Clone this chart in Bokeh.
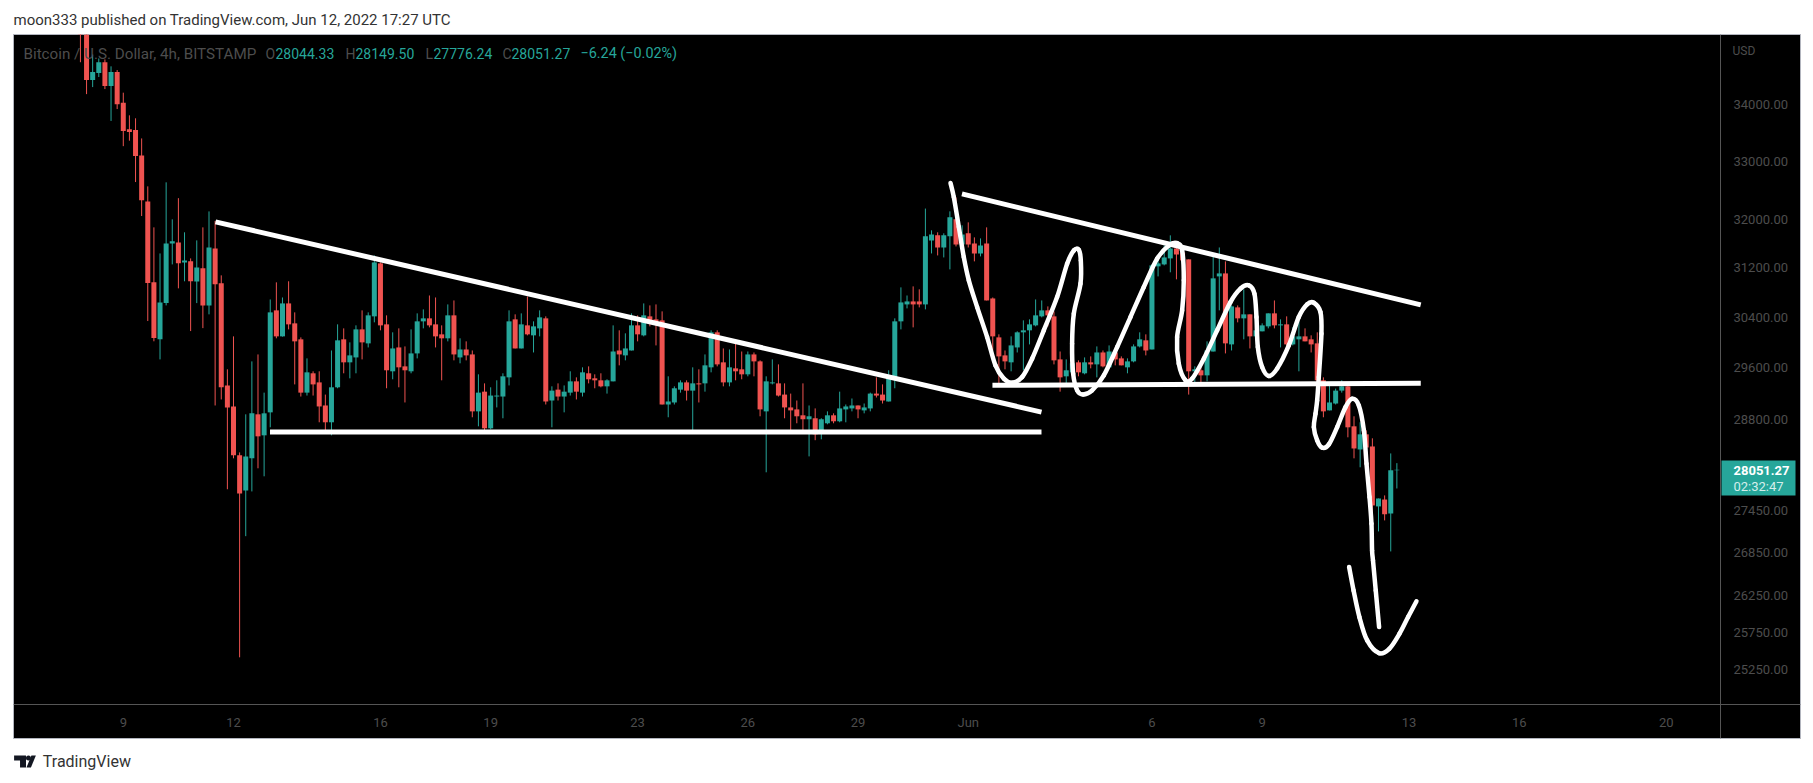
import math
from bokeh.plotting import figure
from bokeh.embed import file_html
from bokeh.resources import INLINE
from bokeh.layouts import column
from bokeh.core.properties import value
from bokeh.models import (ColumnDataSource, Range1d, FixedTicker, PrintfTickFormatter,
                          BoxAnnotation, Label)

# bar number: 0 is 9 May 2022 00:00, 4h bars
first_bar = -7
open_ = [36200,35400,34445,34573,34768,34336,34591,34036,33564,33550,33104,32311,
 30963,30047,30626,31605,31620,31290,31307,30975,31192,30589,31520,30947,
 29326,29003,28265,27748,28221,28883,28565,28913,30509,30094,30621,30301,
 30047,29215,29514,29373,29018,28762,29297,30047,29685,29762,30205,29983,
 30413,31274,30285,29545,29919,29622,29545,29825,30333,30381,30285,30126,
 30063,30429,29762,29887,29809,28928,29230,28671,29155,29155,29451,30365,
 29903,30269,30110,30221,30381,29094,29261,29155,29215,29389,29215,29514,
 29436,29405,29312,29389,29871,29794,29871,30269,30110,30413,30365,30349,
 29033,29064,29261,29373,29246,29358,29358,29607,30158,29685,29373,29591,
 29576,29498,29809,29700,28928,29358,29358,29185,28988,28958,28868,28808,
 28823,28595,28747,28868,28777,28958,28973,29018,28943,28973,29200,29185,
 29079,29451,30333,30605,30653,30653,30605,31655,31739,31537,31722,32008,
 31588,31773,31604,31438,31604,30701,30078,29794,29685,29919,30158,30190,
 30269,30413,30509,30413,29731,29467,29529,29685,29514,29685,29653,29840,
 29607,29840,29747,29607,29700,29935,30031,29887,31225,31257,31356,31520,
 31454,31340,29545,29561,29482,29855,31060,31109,29967,30557,30381,30445,
 30094,30174,30253,30461,30269,30285,29967,30047,30094,30047,29983,29405,
 28943,29048,29246,29312,28701,28353,28580,28398,27515,27615,27414,28044.33]
high = [36500,35800,34913,34840,34822,34695,34627,34217,33811,33758,33402,32569,
 31873,31438,32638,32008,32367,31790,31356,31655,31873,32142,31981,31077,
 29576,30094,28309,28883,29700,29809,29215,30685,30963,30717,30980,30477,
 30078,29747,29545,29545,29185,29871,30285,30221,29999,30269,30509,30477,
 31405,31290,30429,30158,30221,29935,30205,30461,30525,30749,30717,30269,
 30605,30669,30063,30015,29871,29498,29358,29297,29405,29514,30509,30445,
 30461,30733,30333,30509,30413,29312,29358,29326,29545,29451,29607,29622,
 29498,29514,29421,30269,30190,30142,30461,30429,30621,30589,30605,30493,
 29467,29312,29405,29405,29607,29576,29809,30190,30190,29903,29887,30015,
 29855,29855,29840,29716,29467,29731,29653,29358,29200,29094,29358,29018,
 28973,28823,28928,28898,29230,29033,29125,29018,29048,29215,29451,29342,
 29561,30381,30881,30749,30897,30849,32190,31823,31790,31773,32143,32380,
 31907,31957,31705,31688,31873,30717,30126,29871,30094,30174,30349,30365,
 30685,30669,30573,30493,29855,29731,29871,29716,29762,29778,29935,29871,
 29951,29871,29778,29747,29967,30158,30126,31257,31372,31571,31739,31540,
 31571,31340,29622,29716,30015,31389,31537,31307,30589,30589,30849,30445,
 30477,30301,30461,30669,30365,30413,30237,30333,30221,30110,30158,29451,
 29373,29277,29405,29342,28853,28762,28640,28520,27630,27675,28294,28149.5]
low = [34770,34191,34318,34500,34282,33711,33923,33266,33362,32643,32064,30338,
 30016,29731,30589,31257,30865,30980,30178,30626,30225,30445,29018,29110,
 27765,28221,25412,27087,27733,28073,27955,28686,30063,30090,30205,29342,
 29155,29170,29170,28762,28625,28565,29282,29514,29436,29514,29731,29919,
 30317,30190,29282,29421,29297,29064,29514,29747,30221,30237,29919,29405,
 30015,29716,29670,29716,28838,28701,28625,28656,28988,28823,29326,29903,
 29903,30110,29840,30094,29033,28686,29094,28913,29170,29110,29155,29358,
 29282,29297,29200,29389,29638,29716,29871,30015,30094,30253,29951,29033,
 28838,29033,29215,29094,28640,29064,29230,29529,29622,29312,29312,29405,
 29421,29467,29467,28853,28014,29342,29155,28823,28610,28747,28625,28250,
 28492,28505,28732,28747,28762,28762,28928,28823,28898,28928,29140,29048,
 29079,29282,30205,30541,30237,30557,30525,31438,31405,31372,31175,31554,
 31554,31537,31307,31389,30669,29871,29312,29576,29545,29840,29561,29967,
 30253,30397,30253,29653,29230,29358,29482,29467,29498,29591,29451,29607,
 29607,29638,29638,29514,29685,29919,29794,29887,31060,31241,31127,31012,
 31241,29185,29373,29326,29389,29855,30509,29825,29871,30317,30047,29903,
 30094,30174,30221,30221,29919,29951,29951,29545,30015,29840,29185,28838,
 28943,29033,29215,28535,28221,28088,28221,27240,27155,27313,26870,27776.24]
close = [35500,34445,34591,34768,34336,34591,34011,33532,33515,33092,32333,30951,
 30067,30637,31605,31640,31274,31320,30980,31208,30589,31537,30930,29297,
 28988,28265,27704,28250,28898,28550,28898,30477,30094,30621,30285,30015,
 29215,29529,29342,29003,28762,29297,30031,29685,29794,30205,29999,30429,
 31290,30269,29561,29903,29607,29561,29825,30333,30381,30269,30094,30063,
 30429,29809,29887,29794,28928,29215,28671,29170,29170,29467,30333,29903,
 30285,30126,30253,30397,29079,29246,29155,29230,29389,29230,29529,29421,
 29405,29312,29405,29855,29809,29903,30269,30126,30429,30349,30317,29033,
 29079,29282,29373,29246,29358,29342,29638,30158,29653,29373,29607,29545,
 29498,29809,29700,28958,29389,29373,29170,28988,28943,28853,28808,28853,
 28580,28808,28868,28777,28973,29003,29018,28958,28988,29200,29170,29094,
 29451,30333,30637,30653,30605,30605,31722,31755,31537,31739,32042,31588,
 31755,31588,31438,31571,30669,30094,29778,29700,29951,30158,30190,30285,
 30429,30509,30429,29716,29451,29561,29670,29529,29685,29653,29840,29622,
 29855,29731,29638,29700,29935,30047,29871,31241,31274,31372,31520,31422,
 31323,29545,29576,29482,29871,31028,31109,29983,30573,30381,30445,30094,
 30190,30269,30461,30269,30285,29967,30094,30094,30015,29967,29405,28928,
 29064,29246,29312,28686,28368,28580,28383,27529,27630,27400,28044,28051.27]

price_ticks = [25250,25750,26250,26850,27450,28800,29600,30400,31200,32000,33000,34000]
date_bars = [0,18,42,60,84,102,120,138,168,186,210,228,252]
date_labels = ["9","12","16","19","23","26","29","Jun","6","9","13","16","20"]

# white lines drawn by hand on the chart (bar number, price)
wedge1_bar, wedge1_price = [15.06,149.96], [31966,28917]
base1_bar, base1_price = [23.96,149.96], [28615,28615]
wedge2_bar, wedge2_price = [136.97,211.9], [32440,30597]
base2_bar, base2_price = [141.95,211.9], [29327,29358]
scrawl_bar = [135.1,135.64,136.46,137.27,138.09,139.45,141.08,142.44,143.81,145.17,146.8,148.43,150.34,
 152.51,154.15,155.24,156.05,156.38,156.33,155.24,154.96,155.13,155.78,156.76,158.23,160.14,162.31,
 164.49,166.67,168.85,170.75,172.11,172.93,173.2,172.93,172.11,172.38,173.47,174.56,176.47,178.65,
 180.82,182.46,183.82,184.74,185.07,185.29,185.99,187.08,188.44,190.35,191.98,193.34,194.43,195.52,
 195.68,195.25,194.98,194.71,194.44,194.98,195.8,196.89,198.25,199.61,200.7,201.79,202.61,203.04,
 203.53,203.85,203.95,204.1,204.55,205.1]
scrawl_price = [32626,32385,31879,31377,30996,30562,30083,29638,29431,29369,29456,29742,30190,
 30723,31269,31487,31499,31323,30942,30457,29978,29509,29250,29186,29250,29482,29924,
 30402,30887,31351,31571,31609,31487,30996,30509,30083,29664,29405,29431,29742,30190,
 30642,30860,30914,30778,30402,29924,29611,29472,29587,29951,30402,30605,30632,30482,
 30136,29456,29094,28893,28690,28489,28379,28429,28690,28993,29120,29018,28640,28142,
 27650,27266,26883,26743,26323,25820]
hook_bar = [200.2,200.93,201.88,203.15,205.1,206.76,208.43,209.83,211.2]
hook_price = [26650,26323,25957,25639,25467,25526,25730,25957,26174]

UP, DOWN = "#26a69a", "#ef5350"
GREY = "#4d4d4d"
RULE = "#555555"
FONT = "Roboto"

bars = list(range(first_bar, first_bar + len(close)))
colors = [UP if c >= o else DOWN for o, c in zip(open_, close)]
source = ColumnDataSource(dict(bar=bars, open=open_, high=high, low=low, close=close, color=colors))

# the black frame takes in both scale strips; the two axes sit on fixed locations inside it
p = figure(width=1805, height=739, output_backend="svg", toolbar_location=None,
           y_axis_type="log", y_axis_location="right",
           x_range=Range1d(-17.93, 273.92), y_range=Range1d(24348, 35282),
           min_border_left=13, min_border_top=34, min_border_right=5, min_border_bottom=1)
p.background_fill_color = "black"
p.border_fill_color = "white"
p.outline_line_color = "#b2b5be"
p.outline_line_width = 1
p.grid.visible = False

p.segment("bar", "high", "bar", "low", source=source, color="color", line_width=1)
p.vbar("bar", 0.817, "open", "close", source=source, fill_color="color", line_color=None)

for xs, ys in [(wedge1_bar, wedge1_price), (base1_bar, base1_price),
               (wedge2_bar, wedge2_price), (base2_bar, base2_price)]:
    p.line(xs, ys, line_color="white", line_width=5, line_cap="butt")

def stroke(xs, ys):
    # a smooth pen stroke through the anchors, using the library's Bezier glyph
    ls = [math.log(v) for v in ys]
    n = len(xs)
    x0, y0, x1, y1, c0x, c0y, c1x, c1y = [], [], [], [], [], [], [], []
    for i in range(n - 1):
        a, b = max(i - 1, 0), min(i + 2, n - 1)
        x0.append(xs[i]); y0.append(ys[i]); x1.append(xs[i + 1]); y1.append(ys[i + 1])
        c0x.append(xs[i] + (xs[i + 1] - xs[a]) / 6)
        c0y.append(math.exp(ls[i] + (ls[i + 1] - ls[a]) / 6))
        c1x.append(xs[i + 1] - (xs[b] - xs[i]) / 6)
        c1y.append(math.exp(ls[i + 1] - (ls[b] - ls[i]) / 6))
    p.bezier(x0, y0, x1, y1, c0x, c0y, c1x, c1y, line_color="white", line_width=4.5, line_cap="round")

stroke(scrawl_bar, scrawl_price)
stroke(hook_bar, hook_price)

p.yaxis.fixed_location = 260.85
p.yaxis.ticker = FixedTicker(ticks=price_ticks)
p.yaxis.formatter = PrintfTickFormatter(format="%.2f")
p.yaxis.major_tick_line_color = None
p.yaxis.minor_tick_line_color = None
p.yaxis.axis_line_color = RULE
p.yaxis.major_tick_out = 0
p.yaxis.major_label_standoff = 13
p.yaxis.major_label_text_color = GREY
p.yaxis.major_label_text_font = FONT
p.yaxis.major_label_text_font_size = "13px"

p.xaxis.fixed_location = 24788
p.xaxis.ticker = FixedTicker(ticks=date_bars)
p.xaxis.major_label_overrides = dict(zip(date_bars, date_labels))
p.xaxis.major_tick_line_color = None
p.xaxis.minor_tick_line_color = None
p.xaxis.axis_line_color = RULE
p.xaxis.major_tick_out = 0
p.xaxis.major_label_standoff = 10
p.xaxis.major_label_text_color = GREY
p.xaxis.major_label_text_font = FONT
p.xaxis.major_label_text_font_size = "13px"

def text(s, x, y, color, size="14px", style="normal", side=None):
    lab = Label(x=x, y=y, x_units="canvas", y_units="canvas", text=s, text_color=color,
                text_font=FONT, text_font_size=size, text_font_style=style, text_baseline="middle",
                text_align="left", level="overlay")
    if side:
        p.add_layout(lab, side)
    else:
        p.add_layout(lab)

text("moon333 published on TradingView.com, Jun 12, 2022 17:27 UTC", 13, 19, "#333333", "15px", side="above")
text("Bitcoin / U.S. Dollar, 4h, BITSTAMP", 23, 53, GREY, "15.2px")
for s, x, c, size in [("O", 265, GREY, "14px"), ("28044.33", 275, UP, "14px"), ("H", 345, GREY, "14px"),
                      ("28149.50", 355, UP, "14px"), ("L", 425, GREY, "14px"), ("27776.24", 433, UP, "14px"),
                      ("C", 502, GREY, "14px"), ("28051.27", 511, UP, "14px"),
                      ("\u22126.24 (\u22120.02%)", 580, UP, "14.4px")]:
    text(s, x, 53, c, size)
text("USD", 1732, 50, GREY, "12px")

p.add_layout(BoxAnnotation(left=1721, right=1795, top=460, bottom=495, left_units="canvas", right_units="canvas",
                           top_units="canvas", bottom_units="canvas", fill_color=UP, fill_alpha=1, line_alpha=0,
                           level="overlay"))
text("28051.27", 1733, 470, "white", "13px", "bold")
text("02:32:47", 1733, 486, "#d4eeeb", "13px")

# footer strip with the TradingView wordmark
footer = figure(width=1805, height=37, output_backend="svg", toolbar_location=None,
                x_range=Range1d(12.4, 1817.4), y_range=Range1d(776, 739), x_axis_type=None, y_axis_type=None,
                min_border_left=0, min_border_right=0, min_border_top=0, min_border_bottom=0)
footer.outline_line_color = None
footer.grid.visible = False
footer.patches([[13,25,25,19,19,13], [35,30,25.5,30.5]], [[755,755,767,767,760,760], [755,767,767,755]],
               fill_color="#131722", line_color=None)
footer.scatter([27.5], [757.5], size=5, marker="circle", fill_color="#131722", line_color=None)
footer.text([42], [761], text=["TradingView"], text_font=value(FONT), text_font_size="16px",
            text_color="#333333", text_baseline="middle")

open("out.html", "w").write(file_html(column(p, footer, spacing=0), INLINE))
